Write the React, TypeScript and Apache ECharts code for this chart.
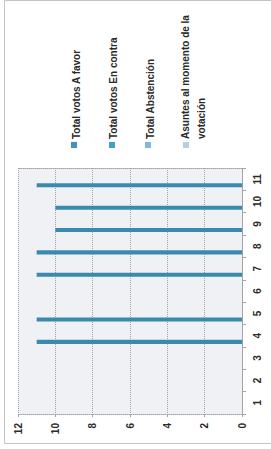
import React, { useEffect, useRef } from "react";
import * as echarts from "echarts";

const categories = ["1", "2", "3", "4", "5", "6", "7", "8", "9", "10", "11"];
const aFavor = [0, 0, 0, 11, 11, 0, 11, 11, 10, 10, 11];
const enContra = [0, 0, 0, 0, 0, 0, 0, 0, 0, 0, 0];
const abstencion = [0, 0, 0, 0, 0, 0, 0, 0, 0, 0, 0];
const asuntes = [0, 0, 0, 0, 0, 0, 0, 0, 0, 0, 0];
const seriesNames = [
  "Total votos A favor",
  "Total votos En contra",
  "Total Abstención",
  "Asuntes al momento de la votación",
];
const legendLines = [
  ["Total votos A favor"],
  ["Total votos En contra"],
  ["Total Abstención"],
  ["Asuntes al momento de la", "votación"],
];
const valueMin = 0;
const valueMax = 12;
const valueStep = 2;

const barColors = ["#3a8ab0", "#3fa0cc", "#7fb8dc", "#b8cde0"];
const legendColors = ["#4a8fc0", "#3fa0cc", "#7fb8dc", "#b8cde0"];
const FONT = "Liberation Sans";

export default function App() {
  const ref = useRef<HTMLDivElement>(null);
  useEffect(() => {
    if (!ref.current) return;
    const chart = echarts.init(ref.current, null, { renderer: "svg" });
    const dataSets = [aFavor, enContra, abstencion, asuntes];
    const legendX = [76, 113, 150, 185];
    const markerX = [74, 112, 148, 186];
    const graphics: any[] = [
      {
        type: "rect",
        shape: { x: 4.5, y: 0.5, width: 280, height: 443 },
        style: { fill: "none", stroke: "#c4c4c4", lineWidth: 1 },
        silent: true,
      },
    ];
    legendLines.forEach((lines, i) => {
      graphics.push({
        type: "rect",
        shape: { x: markerX[i] - 3, y: 142, width: 6, height: 6 },
        style: { fill: legendColors[i] },
      });
      lines.forEach((line, j) => {
        graphics.push({
          type: "text",
          x: legendX[i] + j * 16,
          y: 139,
          rotation: Math.PI / 2,
          style: {
            text: line,
            fill: "#2a2a2a",
            font: `bold 10px "${FONT}"`,
            align: "left",
            verticalAlign: "middle",
          },
        });
      });
    });
    const axisLineStyle = { color: "#a4a4a4", type: "dotted" as const, width: 1 };
    // In a horizontal bar chart ECharts stacks series from the top down,
    // so the series are listed in reverse to put the first one lowest.
    const seriesList = dataSets
      .map((d, i) => ({
        name: seriesNames[i],
        type: "bar",
        xAxisIndex: 0,
        data: d,
        barGap: "0%",
        barCategoryGap: "27%",
        itemStyle: { color: barColors[i] },
      }))
      .reverse();
    chart.setOption({
      animation: false,
      backgroundColor: "#ffffff",
      grid: {
        left: 18,
        right: 29,
        top: 168,
        bottom: 35,
        show: true,
        backgroundColor: "#f0f1f4",
        borderWidth: 0,
      },
      xAxis: [
        {
          type: "value",
          inverse: true,
          min: valueMin,
          max: valueMax,
          interval: valueStep,
          position: "bottom",
          axisLine: { show: true, lineStyle: axisLineStyle },
          axisTick: { show: true, length: 3, lineStyle: { color: "#a4a4a4" } },
          axisLabel: {
            rotate: 90,
            margin: 9,
            fontSize: 10,
            fontWeight: "bold",
            color: "#2a2a2a",
            fontFamily: FONT,
          },
          splitLine: { show: true, lineStyle: axisLineStyle },
        },
        {
          type: "value",
          inverse: true,
          min: valueMin,
          max: valueMax,
          interval: valueStep,
          position: "top",
          axisLine: { show: true, lineStyle: axisLineStyle },
          axisTick: { show: false },
          axisLabel: { show: false },
          splitLine: { show: false },
        },
      ],
      yAxis: {
        type: "category",
        data: categories,
        position: "right",
        axisLine: { show: true, lineStyle: axisLineStyle },
        axisTick: { show: true, length: 4, lineStyle: { color: "#a4a4a4" } },
        axisLabel: {
          rotate: 90,
          margin: 10,
          fontSize: 10,
          fontWeight: "bold",
          color: "#2a2a2a",
          fontFamily: FONT,
        },
      },
      series: seriesList,
      graphic: graphics,
    });
    return () => chart.dispose();
  }, []);
  return (
    <div
      ref={ref}
      style={{ position: "absolute", left: 0, top: 0, width: 271, height: 449 }}
    />
  );
}
